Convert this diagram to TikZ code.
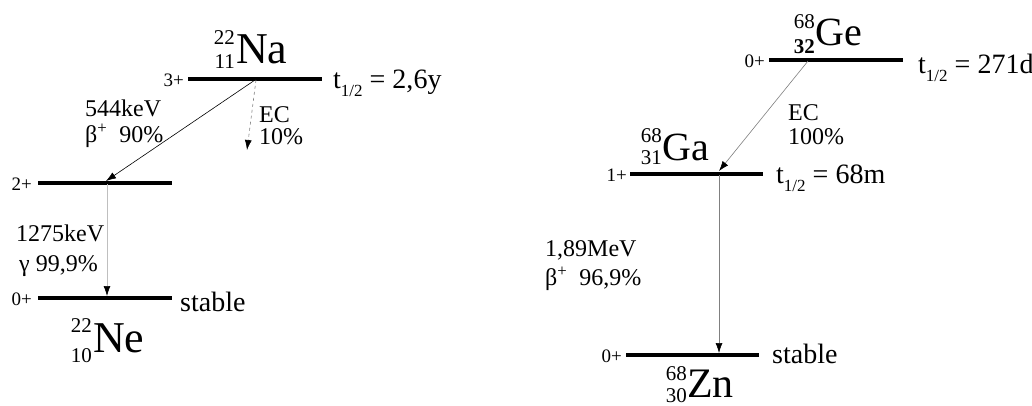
\documentclass[tikz,border=0pt]{standalone}
\usepackage{fontspec}
\setmainfont{Liberation Serif}
\usetikzlibrary{arrows.meta}
\newcommand{\fsz}[1]{\fontsize{#1}{#1}\selectfont}
\newcommand{\half}{t\raisebox{-0.28em}{\fsz{17}1/2}}
\begin{document}
\begin{tikzpicture}[x=1pt,y=-1pt,
  level/.style={line width=3.2pt},
  tr/.style={line width=0.6pt,-{Latex[length=10pt,width=7pt]}},
  lbl/.style={inner sep=0pt,anchor=west,font=\fsz{24}},
  spin/.style={inner sep=0pt,anchor=east,font=\fsz{19}},
  half/.style={inner sep=0pt,anchor=west,font=\fsz{28}},
  big/.style={inner sep=0pt,anchor=base west},
  num/.style={inner sep=0pt,anchor=base east,font=\fsz{21}},
]
\useasboundingbox (0,0) rectangle (1032,405);
\fill[white] (0,0) rectangle (1032,405);

% ---------- Na-22 ----------
\coordinate (naL) at (188,79);  \coordinate (naR) at (322,79);
\coordinate (naS) at (255,80);  \coordinate (naE) at (256,80);
\coordinate (mgL) at (38,183);  \coordinate (mgR) at (172,183);
\coordinate (mgT) at (106,181); \coordinate (mgB) at (107,184);
\coordinate (neL) at (38,298);  \coordinate (neR) at (172,298);
\coordinate (neT) at (107,296);
\coordinate (ecEnd) at (247,150);

\draw[level] (naL) -- (naR);
\draw[level] (mgL) -- (mgR);
\draw[level] (neL) -- (neR);

\node[big,font=\fsz{44}] (na) at (236,63) {Na};
\node[num] (naA) at (235,44) {22};
\node[num] (naZ) at (235,68) {11};
\node[spin] (s3) at (184,80) {3+};
\node[half] (hna) at (333,83) {\half{} = 2,6y};

\node[spin] (s2) at (32,184) {2+};
\node[spin] (s0) at (32,299) {0+};
\node[half] (stne) at (180,302) {stable};
\node[big,font=\fsz{44}] (ne) at (93,352) {Ne};
\node[num] (neA) at (92,332) {22};
\node[num] (neZ) at (92,362) {10};

\draw[tr] (naS) -- (mgT);
\draw[tr,gray,dashed,-{Latex[length=10pt,width=7pt,black]}] (naE) -- (ecEnd);
\draw[tr,black!25,-{Latex[length=10pt,width=7pt,black]}] (mgB) -- (neT);

\node[lbl] (e544) at (85,108) {544keV};
\node[lbl] (b90) at (85,136) {β\textsuperscript{+}~~90\%};
\node[lbl] (ec1) at (259,115) {EC};
\node[lbl] (ec10) at (259,137) {10\%};
\node[lbl] (e1275) at (16,233) {1275keV};
\node[lbl] (g999) at (19,266) {γ 99,9\%};

% ---------- Ge-68 ----------
\coordinate (geL) at (769,60);  \coordinate (geR) at (903,60);
\coordinate (geS) at (808,61);
\coordinate (gaL) at (630,174); \coordinate (gaR) at (763,174);
\coordinate (gaT) at (719,171); \coordinate (gaB) at (719,175);
\coordinate (znL) at (626,355); \coordinate (znR) at (759,355);
\coordinate (znT) at (719,353);

\draw[level] (geL) -- (geR);
\draw[level] (gaL) -- (gaR);
\draw[level] (znL) -- (znR);

\node[big,font=\fsz{40}] (ge) at (815,45) {Ge};
\node[num] (geA) at (815,28) {68};
\node[num,font=\fsz{21}\bfseries] (geZ) at (815,53) {32};
\node[spin] (sg0) at (765,61) {0+};
\node[half] (hge) at (918,68) {\half{} = 271d};

\node[big,font=\fsz{40}] (ga) at (662,160) {Ga};
\node[num] (gaA) at (662,142) {68};
\node[num] (gaZ) at (662,164) {31};
\node[spin] (sg1) at (627,175) {1+};
\node[half] (hga) at (776,178) {\half{} = 68m};

\node[spin] (sz0) at (622,356) {0+};
\node[half] (stzn) at (772,354) {stable};
\node[big,font=\fsz{42}] (zn) at (687,397) {Zn};
\node[num] (znA) at (687,380) {68};
\node[num] (znZ) at (687,402) {30};

\draw[tr,gray,-{Latex[length=10pt,width=7pt,black]}] (geS) -- (gaT);
\draw[tr,gray,-{Latex[length=10pt,width=7pt,black]}] (gaB) -- (znT);

\node[lbl] (ec2) at (788,113) {EC};
\node[lbl] (ec100) at (788,137) {100\%};
\node[lbl] (e189) at (545,250) {1,89MeV};
\node[lbl] (b969) at (545,279) {β\textsuperscript{+}~~96,9\%};
\end{tikzpicture}
\end{document}
